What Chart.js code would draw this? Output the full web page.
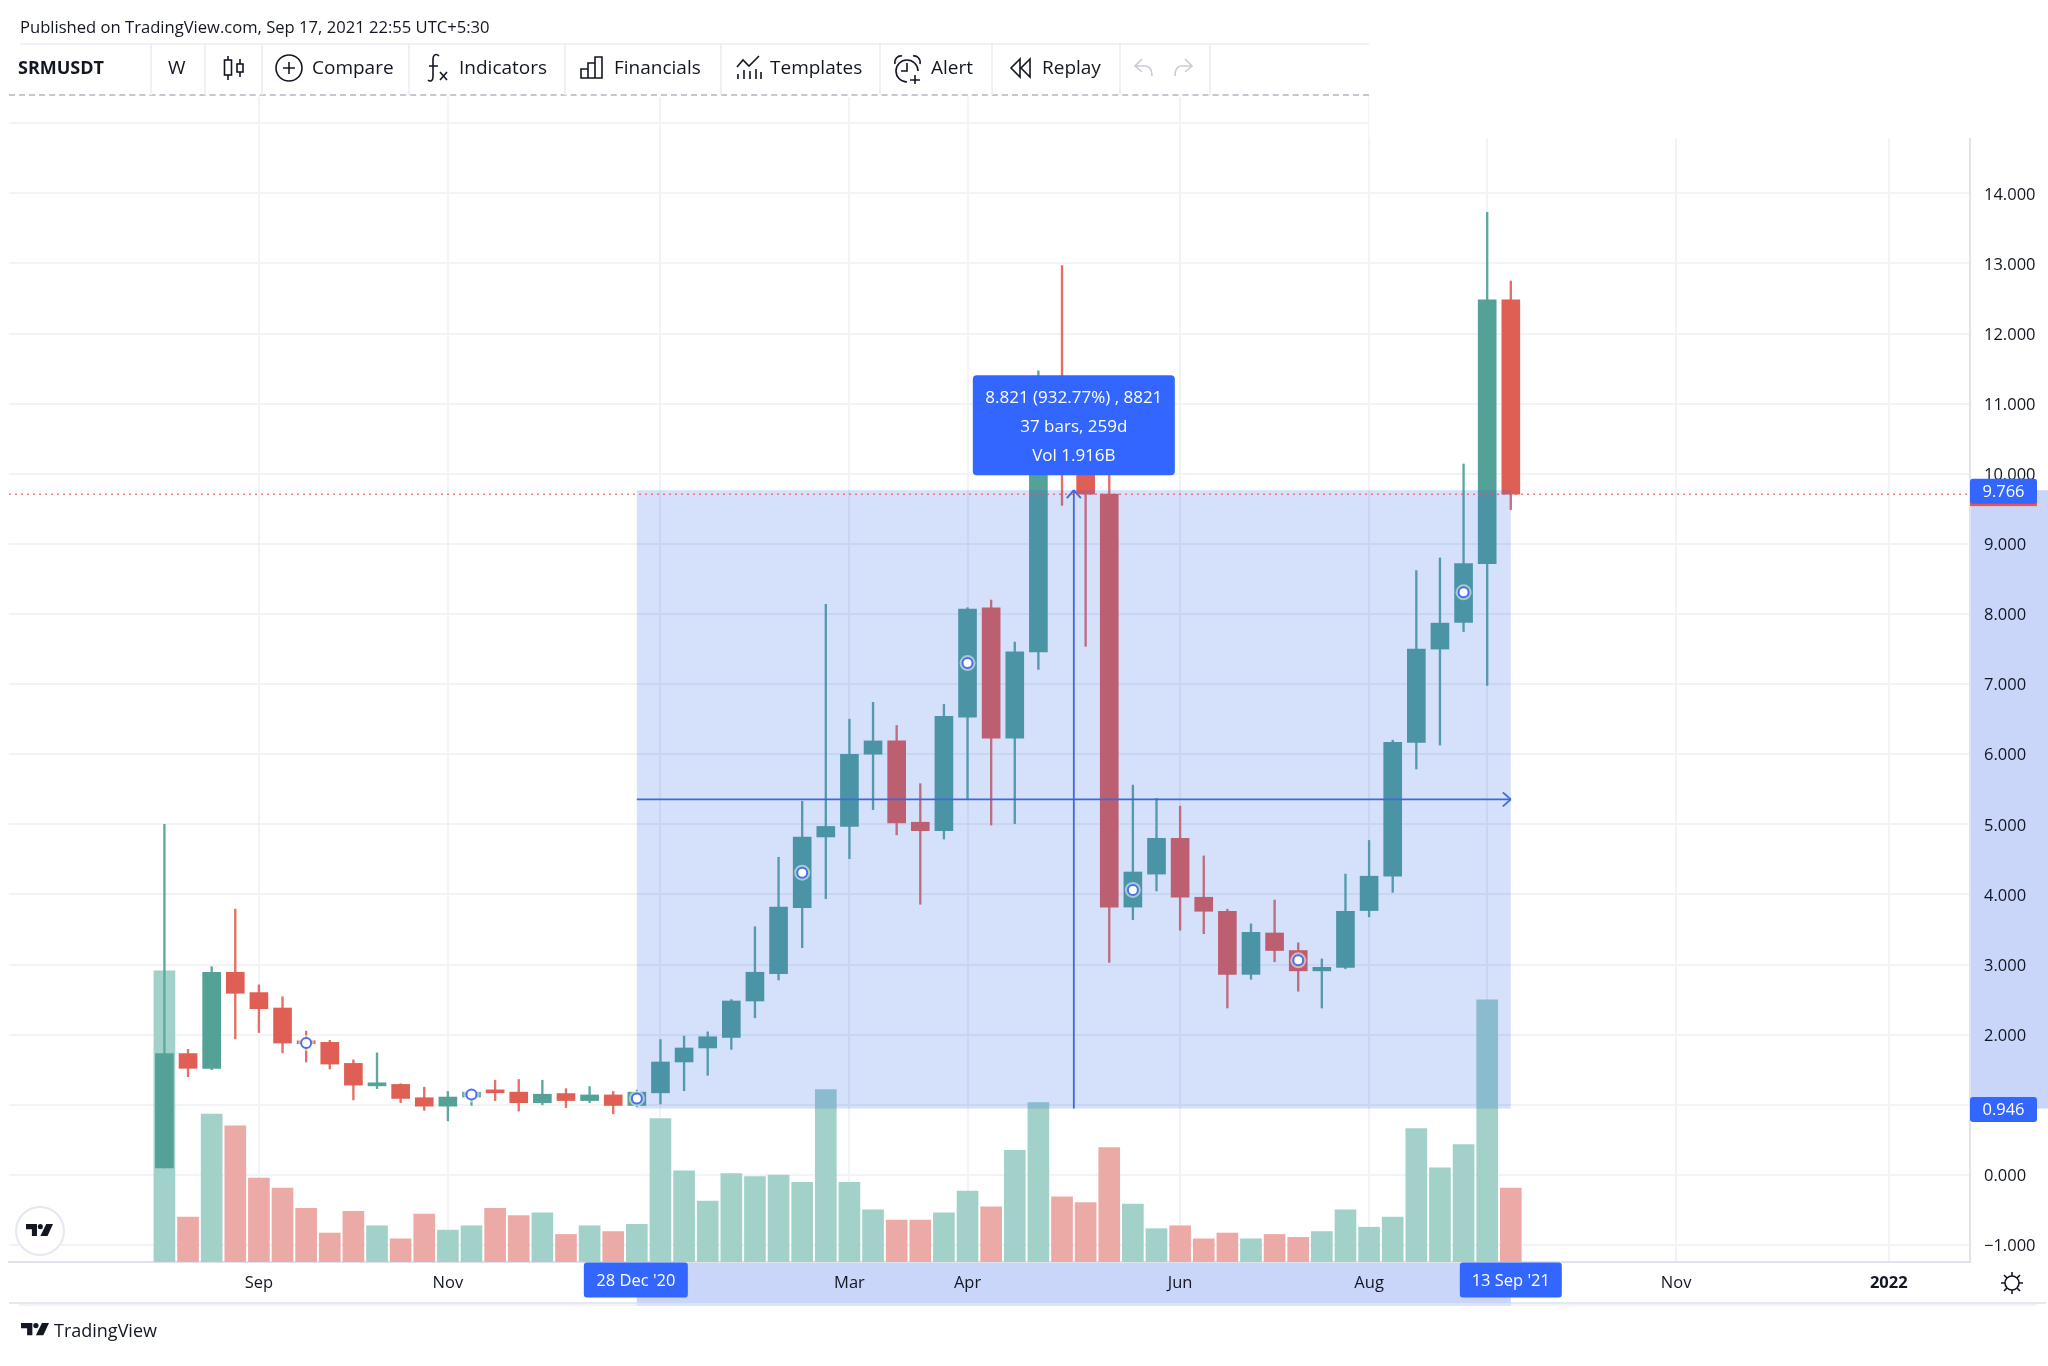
<!DOCTYPE html>
<html>
<head>
<meta charset="utf-8">
<title>SRMUSDT</title>
<script src="https://cdn.jsdelivr.net/npm/chart.js@4"></script>
<style>
    html, body { margin: 0; padding: 0; background: #fff; }
    #page { position: relative; width: 2048px; height: 1366px; overflow: hidden; font-family: "Open Sans", sans-serif; color: #131722; }
    #page canvas { position: absolute; left: 0; top: 0; }
    .abs { position: absolute; }
    .tool { position: absolute; top: 54px; font-size: 19px; line-height: 26px; white-space: nowrap; }
    .sep { position: absolute; top: 43px; width: 2px; height: 52px; background: #eef0f5; }
    svg { position: absolute; fill: none; stroke: #131722; stroke-width: 1.6; overflow: visible; }
</style>
</head>
<body>
<div id="page">
    <canvas id="chart" width="2048" height="1366"></canvas>

    <!-- the chart stops lower on the right of the toolbar -->
    <div class="abs" style="left:1369px;top:90px;width:679px;height:48px;background:#fff"></div>

    <div class="abs" style="left:20px;top:15px;font-size:16.6px;line-height:24px;white-space:nowrap">Published on TradingView.com, Sep 17, 2021 22:55 UTC+5:30</div>

    <div class="abs" style="left:20px;top:43px;width:1349px;height:2px;background:#f0f2f6"></div>
    <div class="abs" style="left:9px;top:94px;width:1360px;height:0;border-top:2px dashed #c4c7cf"></div>
    <div class="sep" style="left:150px"></div>
    <div class="sep" style="left:204px"></div>
    <div class="sep" style="left:261px"></div>
    <div class="sep" style="left:408px"></div>
    <div class="sep" style="left:564px"></div>
    <div class="sep" style="left:720px"></div>
    <div class="sep" style="left:879px"></div>
    <div class="sep" style="left:991px"></div>
    <div class="sep" style="left:1119px"></div>
    <div class="sep" style="left:1209px"></div>

    <div class="tool" style="left:18px;font-weight:700;font-size:18px">SRMUSDT</div>
    <div class="tool" style="left:168px">W</div>
    <svg style="left:223px;top:56px" width="22" height="26">
        <rect x="1.5" y="4" width="7" height="15"/><path d="M5 0v4M5 19v5"/>
        <rect x="14" y="8" width="6" height="8"/><path d="M17 3v5M17 16v5"/>
    </svg>
    <svg style="left:275px;top:54px" width="28" height="28">
        <circle cx="14" cy="14" r="13"/><path d="M14 8v12M8 14h12"/>
    </svg>
    <div class="tool" style="left:312px">Compare</div>
    <svg style="left:427px;top:53px" width="22" height="30">
        <path d="M12 3c-3-3-6-1-6 3v18c0 4-3 5-5 3M2 13h9"/><path d="M13 19l7 8M20 19l-7 8"/>
    </svg>
    <div class="tool" style="left:459px">Indicators</div>
    <svg style="left:580px;top:55px" width="24" height="24">
        <path d="M1 23V14h7v9zM8 23V8h7v15zM15 23V2h7v21zM1 23h21"/>
    </svg>
    <div class="tool" style="left:614px">Financials</div>
    <svg style="left:736px;top:54px" width="26" height="26">
        <path d="M1 13l6-7 6 6 10-10M2 25v-5M8 25V16M14 25v-8M20 25V15M25 25v-7"/>
    </svg>
    <div class="tool" style="left:770px">Templates</div>
    <svg style="left:894px;top:55px" width="30" height="30">
        <path d="M24 16a11 11 0 1 0-11 11M13 8v8H7M1 9c-1-5 3-9 7-8M26 9c1-5-3-9-7-8M21 20v9M16 25h10"/>
    </svg>
    <div class="tool" style="left:931px">Alert</div>
    <svg style="left:1010px;top:58px" width="22" height="22">
        <path d="M10 1L1 10l9 9zM20 1l-9 9 9 9z"/>
    </svg>
    <div class="tool" style="left:1042px">Replay</div>
    <svg style="left:1134px;top:58px;stroke:#c8cbd2" width="20" height="20">
        <path d="M8 1L1 8l7 6M1 8h10c5 0 7 4 7 10"/>
    </svg>
    <svg style="left:1173px;top:58px;stroke:#c8cbd2" width="20" height="20">
        <path d="M12 1l7 7-7 6M19 8H9c-5 0-7 4-7 10"/>
    </svg>

    <div class="abs" style="left:15px;top:1206px;width:46px;height:46px;border:2px solid #e6e8ee;border-radius:50%;background:#fff"></div>
    <svg style="left:26px;top:1223px;fill:#131722;stroke:none" width="27" height="14" viewBox="0 0 32 16">
        <path d="M0 1h13v14H7V7H0z"/><circle cx="17" cy="4" r="3"/><path d="M24 1h8l-6.5 14H17z"/>
    </svg>

    <svg style="left:21px;top:1322px;fill:#131722;stroke:none" width="28" height="14" viewBox="0 0 32 16">
        <path d="M0 1h13v14H7V7H0z"/><circle cx="17" cy="4" r="3"/><path d="M24 1h8l-6.5 14H17z"/>
    </svg>
    <div class="abs" style="left:54px;top:1317px;font-size:18px;line-height:26px">TradingView</div>

    <svg style="left:2001px;top:1272px" width="22" height="22">
        <circle cx="11" cy="11" r="7"/><path d="M11 0v4M11 18v4M0 11h4M18 11h4M3 3l3 3M16 16l3 3M19 3l-3 3M6 16l-3 3"/>
    </svg>
</div>

<script>
// weekly bars, 10 Aug 2020 is bar 0
const opens = [0.10, 1.73, 1.52, 2.89, 2.60, 2.38, 1.89, 1.89, 1.59, 1.27, 1.29, 1.10, 0.98, 1.11, 1.19, 1.18, 1.03, 1.16, 1.06, 1.14, 0.99, 1.17, 1.61, 1.81, 1.96, 2.48, 2.87, 3.81, 4.82, 4.97, 6.00, 6.19, 5.03, 4.91, 6.53, 8.09, 6.23, 7.46, 10.90, 10.35, 9.71, 3.82, 4.29, 4.80, 3.96, 3.76, 2.86, 3.45, 3.20, 2.91, 2.96, 3.77, 4.26, 6.17, 7.50, 7.88, 8.72, 12.48];
const highs = [5.00, 1.79, 2.97, 3.79, 2.71, 2.54, 2.05, 1.92, 1.64, 1.74, 1.30, 1.25, 1.19, 1.22, 1.35, 1.36, 1.35, 1.23, 1.26, 1.19, 1.21, 1.93, 1.98, 2.04, 2.50, 3.54, 4.53, 5.33, 8.14, 6.50, 6.74, 6.41, 5.58, 6.71, 8.09, 8.20, 7.60, 11.47, 12.97, 10.90, 10.35, 5.56, 5.37, 5.26, 4.55, 3.79, 3.58, 3.92, 3.31, 3.08, 4.29, 4.77, 6.20, 8.62, 8.80, 10.14, 13.73, 12.75];
const lows = [0.10, 1.40, 1.50, 1.94, 2.03, 1.74, 1.61, 1.51, 1.07, 1.23, 1.03, 0.92, 0.77, 0.99, 1.06, 0.91, 1.00, 0.96, 1.03, 0.87, 0.97, 1.01, 1.20, 1.42, 1.79, 2.24, 2.78, 3.24, 3.94, 4.51, 5.21, 4.85, 3.86, 4.79, 5.35, 4.99, 5.01, 7.21, 9.55, 7.54, 3.03, 3.64, 4.05, 3.49, 3.44, 2.38, 2.79, 3.04, 2.62, 2.38, 2.94, 3.68, 4.03, 5.79, 6.13, 7.75, 6.98, 9.49];
const closes = [1.73, 1.52, 2.89, 2.59, 2.37, 1.88, 1.87, 1.58, 1.28, 1.30, 1.09, 0.98, 1.11, 1.18, 1.17, 1.03, 1.15, 1.06, 1.14, 0.99, 1.18, 1.61, 1.81, 1.97, 2.48, 2.89, 3.82, 4.82, 4.97, 6.00, 6.19, 5.02, 4.91, 6.54, 8.07, 6.23, 7.46, 10.90, 10.35, 9.71, 3.82, 4.32, 4.80, 3.96, 3.76, 2.86, 3.46, 3.20, 2.91, 2.96, 3.76, 4.26, 6.17, 7.50, 7.87, 8.72, 12.48, 9.71];
// volume in millions
const volumes = [201, 31, 102, 94, 58, 51, 37, 20, 35, 25, 16, 33, 22, 25, 37, 32, 34, 19, 25, 21, 26, 99, 63, 42, 61, 59, 60, 55, 119, 55, 36, 29, 29, 34, 49, 38, 77, 110, 45, 41, 79, 40, 23, 25, 16, 20, 16, 19, 17, 21, 36, 24, 31, 92, 65, 81, 181, 51];

const markerBars = [6, 13, 20, 27, 34, 41, 48, 55];
const markerPrices = [1.88, 1.145, 1.09, 4.31, 7.30, 4.065, 3.06, 8.31];

const xTickBars = [4, 12, 21, 29, 34, 43, 51, 56, 64, 73];
const xTickLabels = ['Sep', 'Nov', '', 'Mar', 'Apr', 'Jun', 'Aug', '', 'Nov', '2022'];
const yTicks = [-1, 0, 1, 2, 3, 4, 5, 6, 7, 8, 9, 10, 11, 12, 13, 14, 15];

const rangeStartBar = 20;
const rangeEndBar = 57;
const rangeLow = 0.946;
const rangeHigh = 9.766;
const rangeStartLabel = "28 Dec '20";
const rangeEndLabel = "13 Sep '21";
const rangeInfo = ['8.821 (932.77%) , 8821', '37 bars, 259d', 'Vol 1.916B'];

const UP = '#53a197';
const DOWN = '#e05f54';
const BLUE = '#3366ff';
const LINE = '#3f68e0';
const FONT = '"Open Sans", sans-serif';

const isUp = (i) => closes[i] >= opens[i];
const candleColors = opens.map((o, i) => (isUp(i) ? UP : DOWN));
const wickColors = opens.map((o, i) => (isUp(i) ? '#5ea89f' : '#e46f65'));
const volumeColors = opens.map((o, i) => (isUp(i) ? '#a2d1ca' : '#ecaaa7'));

const bodies = opens.map((o, i) => ({ x: i, y: [o, closes[i]] }));
const wicks = opens.map((o, i) => ({ x: i, y: [lows[i], highs[i]] }));
const volumePoints = volumes.map((v, i) => ({ x: i, y: v }));
const markerPoints = markerBars.map((b, i) => ({ x: b, y: markerPrices[i] }));

function drawLine(ctx, x1, y1, x2, y2) {
    ctx.beginPath();
    ctx.moveTo(x1, y1);
    ctx.lineTo(x2, y2);
    ctx.stroke();
}

function labelBox(ctx, text, cx, cy, w, h) {
    ctx.fillStyle = BLUE;
    ctx.beginPath();
    ctx.roundRect(cx - w / 2, cy - h / 2, w, h, 3);
    ctx.fill();
    ctx.fillStyle = '#fff';
    ctx.textAlign = 'center';
    ctx.textBaseline = 'middle';
    ctx.fillText(text, cx, cy + 1);
}

const rangeTool = {
    id: 'rangeTool',
    // bands on the two axes go under the tick labels
    beforeDraw(chart) {
        const { ctx, chartArea: area, scales: { x, y } } = chart;
        const left = x.getPixelForValue(rangeStartBar);
        const right = x.getPixelForValue(rangeEndBar);
        const top = y.getPixelForValue(rangeHigh);
        const bottom = y.getPixelForValue(rangeLow);
        ctx.save();
        ctx.fillStyle = '#e6e8ee';
        ctx.fillRect(9, area.bottom + 40, 2037, 2);
        ctx.fillStyle = '#f2f3f7';
        ctx.fillRect(19, area.bottom + 42, 2017, 2);
        ctx.fillStyle = '#dbe4fb';
        ctx.fillRect(left, area.bottom + 40, right - left, 4);
        ctx.fillStyle = '#c9d6fa';
        ctx.fillRect(left, area.bottom, right - left, 41);
        ctx.fillRect(area.right, top, 78, bottom - top);
        ctx.restore();
    },
    // the range sits on the candles, only the markers go over it
    beforeDatasetDraw(chart, args) {
        if (args.index !== 3) return;
        const { ctx, scales: { x, y } } = chart;
        const left = x.getPixelForValue(rangeStartBar);
        const right = x.getPixelForValue(rangeEndBar);
        const top = y.getPixelForValue(rangeHigh);
        const bottom = y.getPixelForValue(rangeLow);
        const midX = (left + right) / 2;
        const midY = y.getPixelForValue((rangeLow + rangeHigh) / 2);
        ctx.save();
        ctx.fillStyle = 'rgba(45, 100, 230, 0.2)';
        ctx.fillRect(left, top, right - left, bottom - top);
        ctx.strokeStyle = LINE;
        ctx.lineWidth = 1.8;
        drawLine(ctx, left, midY, right, midY);
        drawLine(ctx, right - 8, midY - 7, right, midY);
        drawLine(ctx, right - 8, midY + 7, right, midY);
        drawLine(ctx, midX, bottom, midX, top);
        drawLine(ctx, midX - 7, top + 8, midX, top);
        drawLine(ctx, midX + 7, top + 8, midX, top);
        ctx.restore();
    },
    afterDraw(chart) {
        const { ctx, chartArea: area, scales: { x, y } } = chart;
        const left = x.getPixelForValue(rangeStartBar);
        const right = x.getPixelForValue(rangeEndBar);
        const top = y.getPixelForValue(rangeHigh);
        const bottom = y.getPixelForValue(rangeLow);
        const midX = (left + right) / 2;
        const lastClose = y.getPixelForValue(closes[closes.length - 1]);
        ctx.save();

        // last price line and its label under the range label
        ctx.strokeStyle = 'rgba(239, 83, 80, 0.75)';
        ctx.lineWidth = 1.5;
        ctx.setLineDash([2, 4]);
        drawLine(ctx, area.left, lastClose, area.right, lastClose);
        ctx.setLineDash([]);
        ctx.fillStyle = '#ef5350';
        ctx.fillRect(area.right, lastClose - 12, 67, 24);

        ctx.font = '16.5px ' + FONT;
        labelBox(ctx, rangeHigh.toFixed(3), area.right + 33.5, top + 1, 67, 25);
        labelBox(ctx, rangeLow.toFixed(3), area.right + 33.5, bottom + 1, 67, 25);
        labelBox(ctx, rangeStartLabel, left - 1, area.bottom + 18, 104, 35);
        labelBox(ctx, rangeEndLabel, right, area.bottom + 18, 102, 35);

        // info box above the range
        ctx.fillStyle = BLUE;
        ctx.beginPath();
        ctx.roundRect(midX - 101, top - 115, 202, 100, 4);
        ctx.fill();
        ctx.fillStyle = '#fff';
        ctx.textAlign = 'center';
        ctx.textBaseline = 'middle';
        ctx.font = '17px ' + FONT;
        rangeInfo.forEach((line, i) => {
            ctx.fillText(line, midX, top - 92 + i * 29);
        });
        ctx.restore();
    }
};

const ctx = document.getElementById('chart').getContext('2d');
const chart = new Chart(ctx, { // eslint-disable-line
    type: 'bar',
    plugins: [rangeTool],
    data: {
        datasets: [
            {
                label: 'Volume',
                yAxisID: 'vol',
                data: volumePoints,
                backgroundColor: volumeColors,
                barThickness: 21,
                grouped: false,
                order: 5
            },
            {
                label: 'Wick',
                data: wicks,
                backgroundColor: wickColors,
                barThickness: 1.7,
                grouped: false,
                order: 4
            },
            {
                label: 'Body',
                data: bodies,
                backgroundColor: candleColors,
                barThickness: 18,
                minBarLength: 3,
                grouped: false,
                order: 3
            },
            {
                type: 'scatter',
                label: 'Marker halo',
                data: markerPoints,
                pointRadius: 8,
                pointBackgroundColor: 'rgba(255, 255, 255, 0.5)',
                pointBorderWidth: 0,
                order: 2
            },
            {
                type: 'scatter',
                label: 'Marker',
                data: markerPoints,
                pointRadius: 5,
                pointBackgroundColor: '#fff',
                pointBorderColor: '#4a70ea',
                pointBorderWidth: 2,
                order: 1
            }
        ]
    },
    options: {
        responsive: false,
        animation: false,
        events: [],
        layout: { padding: { left: 9, top: 97, right: 0, bottom: 62 } },
        plugins: {
            legend: { display: false },
            tooltip: { enabled: false }
        },
        scales: {
            x: {
                type: 'linear',
                offset: false,
                min: -6.58,
                max: 76.44,
                grid: { offset: false, color: '#f1f3f7', lineWidth: 2, drawTicks: false },
                border: { color: '#e0e3eb', width: 2 },
                afterBuildTicks(axis) {
                    axis.ticks = xTickBars.map((b) => ({ value: b }));
                },
                afterFit(axis) {
                    axis.height = 42;
                },
                ticks: {
                    autoSkip: false,
                    maxRotation: 0,
                    padding: 11,
                    color: '#131722',
                    font: (c) => ({
                        family: FONT,
                        size: 16.5,
                        weight: xTickLabels[c.index] === '2022' ? '700' : '400'
                    }),
                    callback: (value, i) => xTickLabels[i]
                }
            },
            y: {
                position: 'right',
                min: -1.243,
                max: 15.375,
                grid: { color: '#f1f3f7', lineWidth: 2, drawTicks: false },
                border: { color: '#e0e3eb', width: 2 },
                afterBuildTicks(axis) {
                    axis.ticks = yTicks.map((v) => ({ value: v }));
                },
                afterFit(axis) {
                    axis.width = 78;
                },
                ticks: {
                    padding: 14,
                    labelOffset: 1.5,
                    color: '#131722',
                    font: { family: FONT, size: 16.5 },
                    callback: (value) => (value === 15 ? '' : value.toFixed(3).replace('-', '\u2212'))
                }
            },
            vol: {
                display: false,
                min: 0,
                max: 804
            }
        }
    }
});
</script>
</body>
</html>
